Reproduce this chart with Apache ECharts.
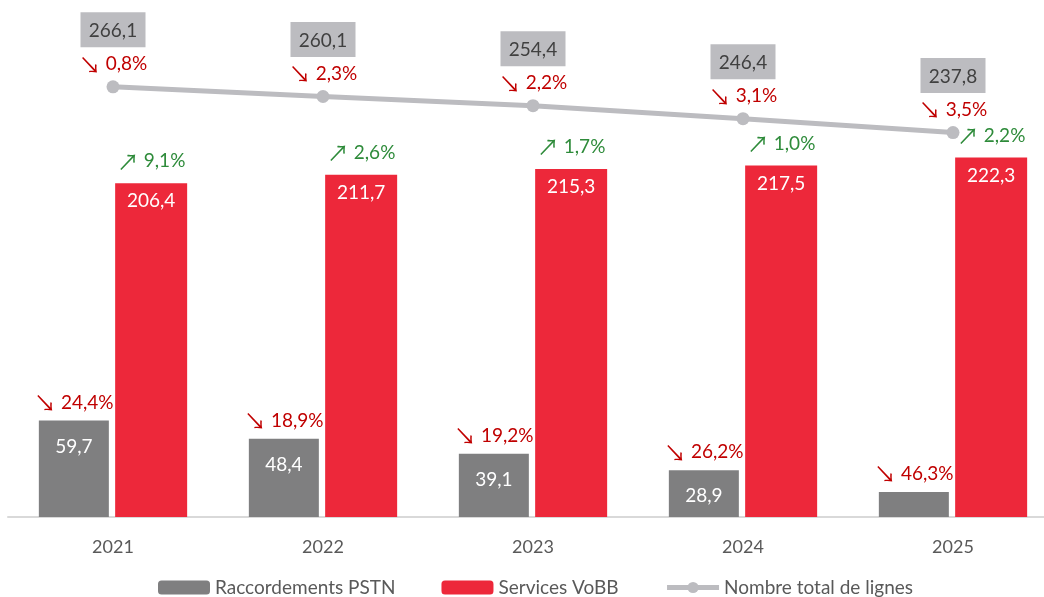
<!DOCTYPE html>
<html>
<head>
<meta charset="utf-8">
<script src="https://cdn.jsdelivr.net/npm/echarts@6/dist/echarts.min.js"></script>
<style>
  html, body { margin: 0; padding: 0; background: #fff; }
  #main { width: 1044px; height: 597px; }
</style>
</head>
<body>
<div id="main"></div>
<script>
var years = ['2021', '2022', '2023', '2024', '2025'];
var pstn = [59.7, 48.4, 39.1, 28.9, 15.5];
var vobb = [206.4, 211.7, 215.3, 217.5, 222.3];
var total = [266.1, 260.1, 254.4, 246.4, 237.8];
// évolution annuelle (texte affiché)
var pstnChange = ['24,4%', '18,9%', '19,2%', '26,2%', '46,3%'];
var vobbChange = ['9,1%', '2,6%', '1,7%', '1,0%', '2,2%'];
var totalChange = ['0,8%', '2,3%', '2,2%', '3,1%', '3,5%'];
var pstnShowValue = [true, true, true, true, false];

var myChart = echarts.init(document.getElementById('main'));
var FONT = 'Lato';
var ARROW_FONT = 'Noto Sans CJK JP';

function fr(v) {
    return v.toFixed(1).replace('.', ',');
}

var option = {
    backgroundColor: '#ffffff',
    animation: false,
    textStyle: { fontFamily: FONT },
    grid: { left: 8, top: 32, width: 1050, height: 485, outerBoundsMode: 'none' },
    legend: {
        left: 153,
        top: 573,
        itemWidth: 52,
        itemHeight: 14,
        itemGap: 46,
        textStyle: { fontFamily: FONT, fontSize: 19, color: '#595959' },
        data: [
            'Raccordements PSTN',
            'Services VoBB',
            { name: 'Nombre total de lignes', lineStyle: { width: 5 } }
        ]
    },
    xAxis: {
        type: 'category',
        data: years,
        axisTick: { show: false },
        axisLine: { lineStyle: { color: '#d9d9d9', width: 2 } },
        axisLabel: { color: '#595959', fontSize: 18, margin: 21, fontFamily: FONT }
    },
    yAxis: {
        type: 'value',
        min: 0,
        max: 300,
        show: false
    },
    series: [
        {
            name: 'Raccordements PSTN',
            type: 'bar',
            barWidth: 70,
            barGap: '9%',
            data: pstn,
            itemStyle: { color: '#7f7f80' },
            label: {
                show: true,
                position: 'insideTop',
                distance: 0,
                offset: [0, -40],
                formatter: function (p) {
                    var s = '{arr|↘}{pct| ' + pstnChange[p.dataIndex] + '}';
                    if (pstnShowValue[p.dataIndex]) s += '\n{val|' + fr(p.value) + '}';
                    return s;
                },
                rich: {
                    arr: { color: '#c00000', fontSize: 22, lineHeight: 44, fontFamily: ARROW_FONT },
                    pct: { color: '#c00000', fontSize: 19, lineHeight: 44, fontFamily: FONT },
                    val: { color: '#ffffff', fontSize: 19, lineHeight: 44, fontFamily: FONT }
                }
            }
        },
        {
            name: 'Services VoBB',
            type: 'bar',
            barWidth: 72,
            data: vobb,
            itemStyle: { color: '#ed283a' },
            label: {
                show: true,
                position: 'insideTop',
                distance: 0,
                offset: [0, -42],
                formatter: function (p) {
                    return '{arr|↗}{pct| ' + vobbChange[p.dataIndex] + '}\n{val|' + fr(p.value) + '}';
                },
                rich: {
                    arr: { color: '#2e8b3a', fontSize: 22, lineHeight: 40, fontFamily: ARROW_FONT },
                    pct: { color: '#2e8b3a', fontSize: 19, lineHeight: 40, fontFamily: FONT },
                    val: { color: '#ffffff', fontSize: 19, lineHeight: 40, fontFamily: FONT }
                }
            }
        },
        {
            name: 'Nombre total de lignes',
            type: 'line',
            data: total,
            symbol: 'circle',
            symbolSize: 13,
            itemStyle: { color: '#bcbcc0' },
            lineStyle: { color: '#bcbcc0', width: 5 },
            label: {
                show: true,
                position: 'top',
                distance: 2,
                formatter: function (p) {
                    return '{box|' + fr(p.value) + '}\n{gap|}\n{arr|↘}{pct| ' + totalChange[p.dataIndex] + '}';
                },
                rich: {
                    box: {
                        backgroundColor: '#bcbcc0',
                        color: '#404040',
                        fontSize: 19,
                        width: 45,
                        align: 'center',
                        padding: [9, 10, 7, 10],
                        fontFamily: FONT
                    },
                    gap: { height: 3, lineHeight: 3, fontSize: 2 },
                    arr: { color: '#c00000', fontSize: 22, lineHeight: 28, fontFamily: ARROW_FONT },
                    pct: { color: '#c00000', fontSize: 19, lineHeight: 28, fontFamily: FONT }
                }
            }
        }
    ]
};
myChart.setOption(option);
</script>
</body>
</html>
